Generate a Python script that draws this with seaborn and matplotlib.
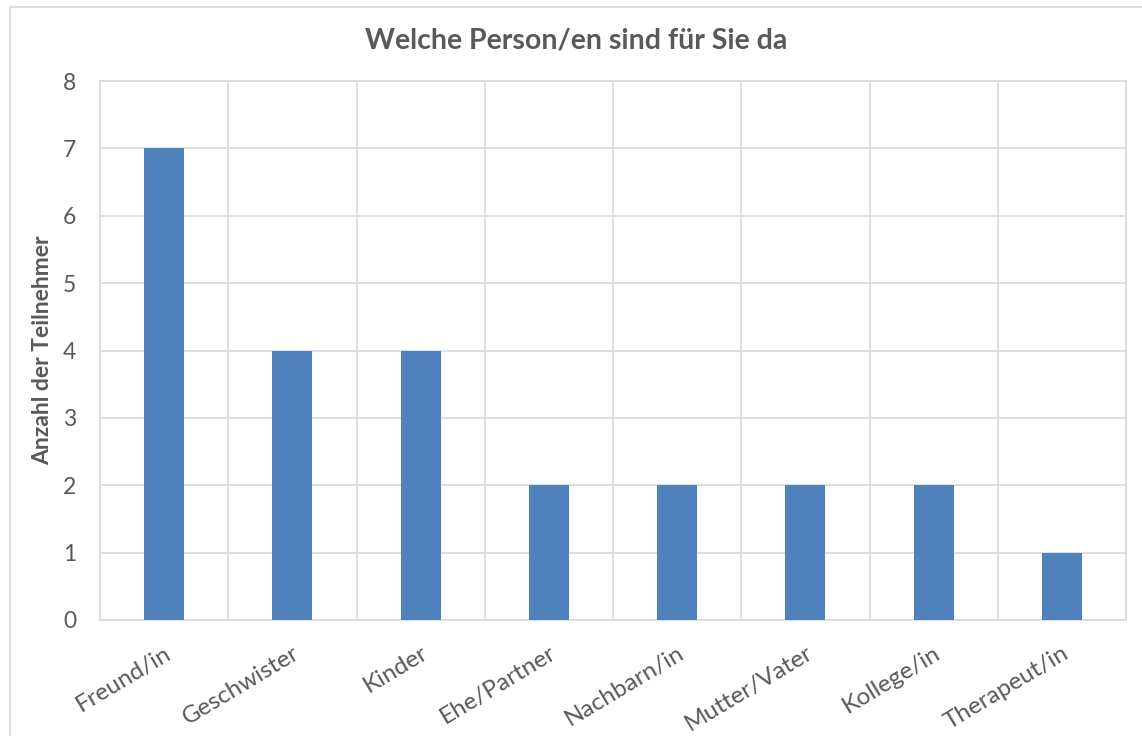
import pandas
import seaborn
import matplotlib.pyplot as plt
from matplotlib.lines import Line2D

categories = ['Freund/in', 'Geschwister', 'Kinder', 'Ehe/Partner',
              'Nachbarn/in', 'Mutter/Vater', 'Kollege/in', 'Therapeut/in']
counts = [7, 4, 4, 2, 2, 2, 2, 1]

seaborn.set_style(style='white')
plt.rcParams['font.family'] = ['Lato', 'DejaVu Sans']

df = pandas.DataFrame({'person': categories, 'count': counts})

fig = plt.figure(figsize=(11.42, 7.36), dpi=100)
ax = fig.add_axes([100 / 1142, 1 - 620 / 736, 1026 / 1142, 539 / 736])

grid_col = '#d9d9d9'
text_col = '#595959'

seaborn.barplot(data=df, x='person', y='count', color='#4f81bd', width=0.31,
                saturation=1, linewidth=0, ax=ax, zorder=3)

ax.set_ylim(0, 8)
ax.set_xlim(-0.5, len(categories) - 0.5)
ax.set_yticks(range(0, 9))
ax.set_xticks([i - 0.5 for i in range(len(categories) + 1)], minor=True)
ax.grid(axis='y', which='major', color=grid_col, linewidth=1.2, zorder=0)
ax.grid(axis='x', which='minor', color=grid_col, linewidth=1.2, zorder=0)
ax.grid(axis='x', which='major', visible=False)
for side in ['top', 'right', 'bottom', 'left']:
    ax.spines[side].set_color(grid_col)
    ax.spines[side].set_linewidth(1.2)
ax.tick_params(axis='both', which='both', length=0, colors=text_col)
ax.tick_params(axis='y', pad=17, labelsize=16.5)
ax.set_xticks(range(len(categories)))
ax.set_xticklabels(categories, rotation=31, ha='right', rotation_mode='anchor', fontsize=17.5)
ax.tick_params(axis='x', pad=16)

ax.set_xlabel('')
ax.set_ylabel('Anzahl der Teilnehmer', fontsize=16.5, fontweight='bold', color=text_col)
ax.yaxis.set_label_coords(-47 / 1026, 0.5)
fig.text(576 / 1142, 1 - 40 / 736, 'Welche Person/en sind für Sie da', ha='center', va='center',
         fontsize=20.5, fontweight='bold', color=text_col)

# chart area border (top and left visible)
fig.add_artist(Line2D([10 / 1142, 10 / 1142], [0, 1 - 7 / 736], color=grid_col, linewidth=1.2,
                      transform=fig.transFigure))
fig.add_artist(Line2D([10 / 1142, 1], [1 - 7 / 736, 1 - 7 / 736], color=grid_col, linewidth=1.2,
                      transform=fig.transFigure))

plt.savefig('out.png', dpi=100)
